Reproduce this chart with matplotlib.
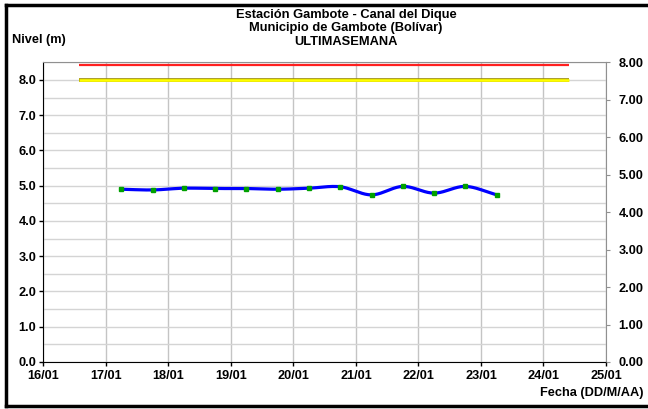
import numpy as np
import matplotlib
matplotlib.use("Agg")
import matplotlib.pyplot as plt
import matplotlib.dates as mdates
import datetime as dt

plt.rcParams['font.family'] = ['Liberation Sans', 'DejaVu Sans']

# ---- data ----
title_lines = ["Estación Gambote - Canal del Dique",
               "Municipio de Gambote (Bolívar)",
               "ULTIMASEMANA"]
obs_times = ["2013-01-17 06:00", "2013-01-17 18:00", "2013-01-18 06:00", "2013-01-18 18:00",
             "2013-01-19 06:00", "2013-01-19 18:00", "2013-01-20 06:00", "2013-01-20 18:00",
             "2013-01-21 06:00", "2013-01-21 18:00", "2013-01-22 06:00", "2013-01-22 18:00",
             "2013-01-23 06:00"]
obs_levels = [4.90, 4.88, 4.93, 4.92, 4.92, 4.90, 4.93, 4.97, 4.74, 4.98, 4.79, 4.98, 4.74]
ref_times = ["2013-01-16 13:40", "2013-01-24 09:40"]
red_level = [8.43, 8.43]
yellow_level = [8.0, 8.0]
x_start, x_end = "2013-01-16", "2013-01-25"
left_ticks = [0, 1, 2, 3, 4, 5, 6, 7, 8]
right_ticks = [0, 1, 2, 3, 4, 5, 6, 7, 8]

def to_num(lst):
    return mdates.date2num([dt.datetime.fromisoformat(s) for s in lst])

def catmull(x, y, n=20):
    x = np.asarray(x, float); y = np.asarray(y, float)
    px = np.concatenate([[2*x[0]-x[1]], x, [2*x[-1]-x[-2]]])
    py = np.concatenate([[2*y[0]-y[1]], y, [2*y[-1]-y[-2]]])
    xs, ys = [], []
    t = np.linspace(0, 1, n, endpoint=False)
    for i in range(1, len(px)-2):
        p0, p1, p2, p3 = [np.array([px[j], py[j]]) for j in (i-1, i, i+1, i+2)]
        b1 = p1 + (p2 - p0) / 6
        b2 = p2 - (p3 - p1) / 6
        tt = t[:, None]
        pts = (1-tt)**3*p1 + 3*(1-tt)**2*tt*b1 + 3*(1-tt)*tt**2*b2 + tt**3*p2
        xs.extend(pts[:, 0]); ys.extend(pts[:, 1])
    xs.append(x[-1]); ys.append(y[-1])
    return np.array(xs), np.array(ys)

fig = plt.figure(figsize=(6.48, 4.09), dpi=100)
W, H = 648, 409
ax = fig.add_axes([43.3/W, 1-362/H, (606-43.3)/W, (362-62.3)/H])

xo = to_num(obs_times)
xr = to_num(ref_times)
sx, sy = catmull(xo, obs_levels)

ax.plot(xr, red_level, color='#ff2020', lw=1.6, solid_capstyle='butt', zorder=3)
ax.plot(xr, yellow_level, color='#9a8a00', lw=2.6, solid_capstyle='butt', zorder=3)
ax.plot(xr, yellow_level, color='#ffff00', lw=1.9, solid_capstyle='butt', zorder=3)
ax.plot(sx, sy, color='#0000ff', lw=2.3, zorder=4)
ax.plot(xo, obs_levels, ls='none', marker='s', ms=2.6, mfc='#00a000', mec='#00a000', zorder=5)

ax.set_xlim(to_num([x_start])[0], to_num([x_end])[0])
ax.set_ylim(0, 8.5)
ax.xaxis.set_major_locator(mdates.DayLocator())
ax.xaxis.set_major_formatter(mdates.DateFormatter('%d/%m'))
ax.set_yticks(left_ticks)
ax.set_yticklabels([f"{v:.1f}" for v in left_ticks])
ax.set_yticks(np.arange(0, 8.51, 0.5), minor=True)
ax.grid(True, which='major', axis='x', color='#c4c4c4', lw=1)
ax.grid(True, which='both', axis='y', color='#d4d4d4', lw=1)
ax.set_axisbelow(True)
ax.tick_params(axis='y', which='minor', length=0)
ax.tick_params(axis='both', which='major', direction='out', length=3, width=1,
               labelsize=9.2, pad=2, colors='black')
ax.tick_params(axis='x', pad=3)
for lab in ax.get_xticklabels() + ax.get_yticklabels():
    lab.set_fontweight('bold')
ax.spines['left'].set_color('black')
ax.spines['bottom'].set_color('black')
ax.spines['top'].set_color('#909090')
ax.spines['right'].set_color('#909090')

ax2 = ax.twinx()
ax2.set_ylim(0, 8)
ax2.set_yticks(right_ticks)
ax2.set_yticklabels([f"{v:.2f}" for v in right_ticks])
ax2.tick_params(axis='y', direction='out', length=3, labelsize=9.2, pad=6,
                colors='black')
ax2.tick_params(axis='y', color='#909090')
for lab in ax2.get_yticklabels():
    lab.set_fontweight('bold')
for s in ax2.spines.values():
    s.set_visible(False)

fig.text(346/W, 1-28.5/H, "\n".join(title_lines), ha='center', va='center',
         fontsize=9.3, fontweight='bold', linespacing=1.12)
fig.text(12/W, 1-40/H, "Nivel (m)", ha='left', va='center', fontsize=9.2, fontweight='bold')
fig.text(643/W, 1-393/H, "Fecha (DD/M/AA)", ha='right', va='center', fontsize=9.2,
         fontweight='bold')

# outer chart border (left, top, bottom)
fig.add_artist(plt.Line2D([6/W, 6/W], [1-5/H, 1-406/H], color='black', lw=2.5,
                          transform=fig.transFigure))
fig.add_artist(plt.Line2D([6/W, 1.01], [1-5/H, 1-5/H], color='black', lw=2.5,
                          transform=fig.transFigure))
fig.add_artist(plt.Line2D([6/W, 1.01], [1-406/H, 1-406/H], color='black', lw=2.5,
                          transform=fig.transFigure))

fig.savefig("out.png", dpi=100)
